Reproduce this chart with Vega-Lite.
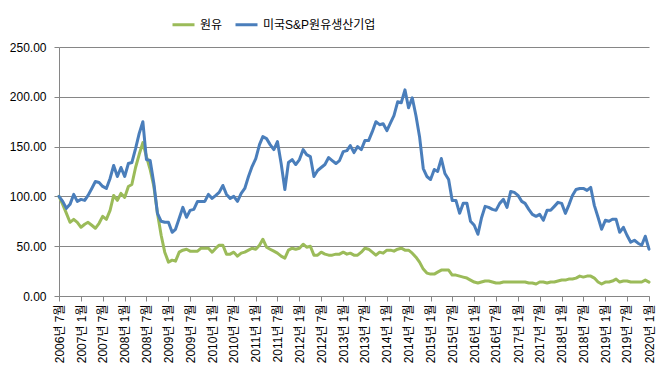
{
  "$schema": "https://vega.github.io/schema/vega-lite/v6.json",
  "width": 590,
  "height": 249,
  "autosize": {"type": "none"},
  "padding": {"left": 59, "top": 47, "right": 16, "bottom": 81},
  "background": "white",
  "config": {
    "font": "Liberation Sans, Noto Sans CJK KR, sans-serif",
    "view": {"stroke": null},
    "axis": {"labelColor": "#000000", "labelFontSize": 12, "domainColor": "#868686", "tickColor": "#868686", "tickSize": 5, "title": null}
  },
  "data": {
    "values": [
      {"d":"2006-07-01","원유":100,"미국S&P원유생산기업":100},
      {"d":"2006-08-01","원유":92,"미국S&P원유생산기업":95},
      {"d":"2006-09-01","원유":83,"미국S&P원유생산기업":88},
      {"d":"2006-10-01","원유":74,"미국S&P원유생산기업":92},
      {"d":"2006-11-01","원유":77,"미국S&P원유생산기업":102},
      {"d":"2006-12-01","원유":74,"미국S&P원유생산기업":95},
      {"d":"2007-01-01","원유":69,"미국S&P원유생산기업":97},
      {"d":"2007-02-01","원유":72,"미국S&P원유생산기업":96},
      {"d":"2007-03-01","원유":74,"미국S&P원유생산기업":101},
      {"d":"2007-04-01","원유":71,"미국S&P원유생산기업":108},
      {"d":"2007-05-01","원유":68,"미국S&P원유생산기업":115},
      {"d":"2007-06-01","원유":73,"미국S&P원유생산기업":114},
      {"d":"2007-07-01","원유":80,"미국S&P원유생산기업":110},
      {"d":"2007-08-01","원유":77,"미국S&P원유생산기업":108},
      {"d":"2007-09-01","원유":86,"미국S&P원유생산기업":118},
      {"d":"2007-10-01","원유":101,"미국S&P원유생산기업":131},
      {"d":"2007-11-01","원유":96,"미국S&P원유생산기업":120},
      {"d":"2007-12-01","원유":103,"미국S&P원유생산기업":129},
      {"d":"2008-01-01","원유":99,"미국S&P원유생산기업":120},
      {"d":"2008-02-01","원유":110,"미국S&P원유생산기업":133},
      {"d":"2008-03-01","원유":112,"미국S&P원유생산기업":134},
      {"d":"2008-04-01","원유":129,"미국S&P원유생산기업":148},
      {"d":"2008-05-01","원유":142,"미국S&P원유생산기업":163},
      {"d":"2008-06-01","원유":154,"미국S&P원유생산기업":175},
      {"d":"2008-07-01","원유":140,"미국S&P원유생산기업":137},
      {"d":"2008-08-01","원유":127,"미국S&P원유생산기업":136},
      {"d":"2008-09-01","원유":110,"미국S&P원유생산기업":113},
      {"d":"2008-10-01","원유":83,"미국S&P원유생산기업":83},
      {"d":"2008-11-01","원유":61,"미국S&P원유생산기업":75},
      {"d":"2008-12-01","원유":44,"미국S&P원유생산기업":74},
      {"d":"2009-01-01","원유":34,"미국S&P원유생산기업":74},
      {"d":"2009-02-01","원유":36,"미국S&P원유생산기업":64},
      {"d":"2009-03-01","원유":35,"미국S&P원유생산기업":67},
      {"d":"2009-04-01","원유":44,"미국S&P원유생산기업":78},
      {"d":"2009-05-01","원유":46,"미국S&P원유생산기업":89},
      {"d":"2009-06-01","원유":47,"미국S&P원유생산기업":79},
      {"d":"2009-07-01","원유":45,"미국S&P원유생산기업":86},
      {"d":"2009-08-01","원유":45,"미국S&P원유생산기업":87},
      {"d":"2009-09-01","원유":45,"미국S&P원유생산기업":95},
      {"d":"2009-10-01","원유":48,"미국S&P원유생산기업":95},
      {"d":"2009-11-01","원유":48,"미국S&P원유생산기업":95},
      {"d":"2009-12-01","원유":48,"미국S&P원유생산기업":102},
      {"d":"2010-01-01","원유":44,"미국S&P원유생산기업":98},
      {"d":"2010-02-01","원유":48,"미국S&P원유생산기업":101},
      {"d":"2010-03-01","원유":51,"미국S&P원유생산기업":104},
      {"d":"2010-04-01","원유":51,"미국S&P원유생산기업":111},
      {"d":"2010-05-01","원유":42,"미국S&P원유생산기업":102},
      {"d":"2010-06-01","원유":42,"미국S&P원유생산기업":98},
      {"d":"2010-07-01","원유":44,"미국S&P원유생산기업":100},
      {"d":"2010-08-01","원유":40,"미국S&P원유생산기업":95},
      {"d":"2010-09-01","원유":43,"미국S&P원유생산기업":103},
      {"d":"2010-10-01","원유":44,"미국S&P원유생산기업":108},
      {"d":"2010-11-01","원유":46,"미국S&P원유생산기업":120},
      {"d":"2010-12-01","원유":48,"미국S&P원유생산기업":130},
      {"d":"2011-01-01","원유":47,"미국S&P원유생산기업":138},
      {"d":"2011-02-01","원유":51,"미국S&P원유생산기업":152},
      {"d":"2011-03-01","원유":57,"미국S&P원유생산기업":160},
      {"d":"2011-04-01","원유":49,"미국S&P원유생산기업":158},
      {"d":"2011-05-01","원유":47,"미국S&P원유생산기업":152},
      {"d":"2011-06-01","원유":45,"미국S&P원유생산기업":147},
      {"d":"2011-07-01","원유":43,"미국S&P원유생산기업":155},
      {"d":"2011-08-01","원유":40,"미국S&P원유생산기업":133},
      {"d":"2011-09-01","원유":38,"미국S&P원유생산기업":107},
      {"d":"2011-10-01","원유":46,"미국S&P원유생산기업":134},
      {"d":"2011-11-01","원유":48,"미국S&P원유생산기업":137},
      {"d":"2011-12-01","원유":47,"미국S&P원유생산기업":132},
      {"d":"2012-01-01","원유":48,"미국S&P원유생산기업":137},
      {"d":"2012-02-01","원유":52,"미국S&P원유생산기업":147},
      {"d":"2012-03-01","원유":49,"미국S&P원유생산기업":142},
      {"d":"2012-04-01","원유":50,"미국S&P원유생산기업":140},
      {"d":"2012-05-01","원유":41,"미국S&P원유생산기업":120},
      {"d":"2012-06-01","원유":41,"미국S&P원유생산기업":126},
      {"d":"2012-07-01","원유":44,"미국S&P원유생산기업":129},
      {"d":"2012-08-01","원유":42,"미국S&P원유생산기업":132},
      {"d":"2012-09-01","원유":41,"미국S&P원유생산기업":139},
      {"d":"2012-10-01","원유":41,"미국S&P원유생산기업":136},
      {"d":"2012-11-01","원유":42,"미국S&P원유생산기업":133},
      {"d":"2012-12-01","원유":42,"미국S&P원유생산기업":136},
      {"d":"2013-01-01","원유":44,"미국S&P원유생산기업":145},
      {"d":"2013-02-01","원유":42,"미국S&P원유생산기업":146},
      {"d":"2013-03-01","원유":43,"미국S&P원유생산기업":151},
      {"d":"2013-04-01","원유":41,"미국S&P원유생산기업":144},
      {"d":"2013-05-01","원유":41,"미국S&P원유생산기업":150},
      {"d":"2013-06-01","원유":44,"미국S&P원유생산기업":147},
      {"d":"2013-07-01","원유":48,"미국S&P원유생산기업":156},
      {"d":"2013-08-01","원유":47,"미국S&P원유생산기업":156},
      {"d":"2013-09-01","원유":44,"미국S&P원유생산기업":165},
      {"d":"2013-10-01","원유":41,"미국S&P원유생산기업":175},
      {"d":"2013-11-01","원유":44,"미국S&P원유생산기업":172},
      {"d":"2013-12-01","원유":43,"미국S&P원유생산기업":173},
      {"d":"2014-01-01","원유":46,"미국S&P원유생산기업":166},
      {"d":"2014-02-01","원유":46,"미국S&P원유생산기업":174},
      {"d":"2014-03-01","원유":45,"미국S&P원유생산기업":181},
      {"d":"2014-04-01","원유":47,"미국S&P원유생산기업":195},
      {"d":"2014-05-01","원유":48,"미국S&P원유생산기업":194},
      {"d":"2014-06-01","원유":46,"미국S&P원유생산기업":207},
      {"d":"2014-07-01","원유":46,"미국S&P원유생산기업":189},
      {"d":"2014-08-01","원유":43,"미국S&P원유생산기업":199},
      {"d":"2014-09-01","원유":39,"미국S&P원유생산기업":181},
      {"d":"2014-10-01","원유":34,"미국S&P원유생산기업":160},
      {"d":"2014-11-01","원유":27,"미국S&P원유생산기업":128},
      {"d":"2014-12-01","원유":23,"미국S&P원유생산기업":120},
      {"d":"2015-01-01","원유":22,"미국S&P원유생산기업":117},
      {"d":"2015-02-01","원유":22,"미국S&P원유생산기업":127},
      {"d":"2015-03-01","원유":24,"미국S&P원유생산기업":125},
      {"d":"2015-04-01","원유":26,"미국S&P원유생산기업":138},
      {"d":"2015-05-01","원유":26,"미국S&P원유생산기업":123},
      {"d":"2015-06-01","원유":26,"미국S&P원유생산기업":117},
      {"d":"2015-07-01","원유":21,"미국S&P원유생산기업":96},
      {"d":"2015-08-01","원유":21,"미국S&P원유생산기업":96},
      {"d":"2015-09-01","원유":20,"미국S&P원유생산기업":83},
      {"d":"2015-10-01","원유":19,"미국S&P원유생산기업":93},
      {"d":"2015-11-01","원유":18,"미국S&P원유생산기업":93},
      {"d":"2015-12-01","원유":16,"미국S&P원유생산기업":75},
      {"d":"2016-01-01","원유":14,"미국S&P원유생산기업":71},
      {"d":"2016-02-01","원유":13,"미국S&P원유생산기업":62},
      {"d":"2016-03-01","원유":14,"미국S&P원유생산기업":78},
      {"d":"2016-04-01","원유":15,"미국S&P원유생산기업":90},
      {"d":"2016-05-01","원유":15,"미국S&P원유생산기업":89},
      {"d":"2016-06-01","원유":14,"미국S&P원유생산기업":87},
      {"d":"2016-07-01","원유":13,"미국S&P원유생산기업":86},
      {"d":"2016-08-01","원유":13,"미국S&P원유생산기업":93},
      {"d":"2016-09-01","원유":14,"미국S&P원유생산기업":97},
      {"d":"2016-10-01","원유":14,"미국S&P원유생산기업":89},
      {"d":"2016-11-01","원유":14,"미국S&P원유생산기업":105},
      {"d":"2016-12-01","원유":14,"미국S&P원유생산기업":104},
      {"d":"2017-01-01","원유":14,"미국S&P원유생산기업":101},
      {"d":"2017-02-01","원유":14,"미국S&P원유생산기업":95},
      {"d":"2017-03-01","원유":14,"미국S&P원유생산기업":93},
      {"d":"2017-04-01","원유":13,"미국S&P원유생산기업":87},
      {"d":"2017-05-01","원유":13,"미국S&P원유생산기업":82},
      {"d":"2017-06-01","원유":12,"미국S&P원유생산기업":80},
      {"d":"2017-07-01","원유":14,"미국S&P원유생산기업":82},
      {"d":"2017-08-01","원유":14,"미국S&P원유생산기업":76},
      {"d":"2017-09-01","원유":13,"미국S&P원유생산기업":86},
      {"d":"2017-10-01","원유":14,"미국S&P원유생산기업":86},
      {"d":"2017-11-01","원유":14,"미국S&P원유생산기업":90},
      {"d":"2017-12-01","원유":15,"미국S&P원유생산기업":94},
      {"d":"2018-01-01","원유":16,"미국S&P원유생산기업":93},
      {"d":"2018-02-01","원유":16,"미국S&P원유생산기업":83},
      {"d":"2018-03-01","원유":17,"미국S&P원유생산기업":91},
      {"d":"2018-04-01","원유":17,"미국S&P원유생산기업":101},
      {"d":"2018-05-01","원유":18,"미국S&P원유생산기업":107},
      {"d":"2018-06-01","원유":20,"미국S&P원유생산기업":108},
      {"d":"2018-07-01","원유":19,"미국S&P원유생산기업":108},
      {"d":"2018-08-01","원유":20,"미국S&P원유생산기업":106},
      {"d":"2018-09-01","원유":20,"미국S&P원유생산기업":109},
      {"d":"2018-10-01","원유":18,"미국S&P원유생산기업":91},
      {"d":"2018-11-01","원유":14,"미국S&P원유생산기업":79},
      {"d":"2018-12-01","원유":12,"미국S&P원유생산기업":67},
      {"d":"2019-01-01","원유":14,"미국S&P원유생산기업":76},
      {"d":"2019-02-01","원유":14,"미국S&P원유생산기업":75},
      {"d":"2019-03-01","원유":15,"미국S&P원유생산기업":77},
      {"d":"2019-04-01","원유":17,"미국S&P원유생산기업":77},
      {"d":"2019-05-01","원유":14,"미국S&P원유생산기업":64},
      {"d":"2019-06-01","원유":15,"미국S&P원유생산기업":69},
      {"d":"2019-07-01","원유":15,"미국S&P원유생산기업":61},
      {"d":"2019-08-01","원유":14,"미국S&P원유생산기업":54},
      {"d":"2019-09-01","원유":14,"미국S&P원유생산기업":56},
      {"d":"2019-10-01","원유":14,"미국S&P원유생산기업":53},
      {"d":"2019-11-01","원유":14,"미국S&P원유생산기업":51},
      {"d":"2019-12-01","원유":16,"미국S&P원유생산기업":60},
      {"d":"2020-01-01","원유":14,"미국S&P원유생산기업":47}
    ]
  },
  "transform": [
    {"fold": ["원유", "미국S&P원유생산기업"], "as": ["series", "value"]}
  ],
  "encoding": {
    "x": {
      "field": "d",
      "type": "temporal",
      "scale": {"type": "utc", "nice": false},
      "axis": {
        "tickCount": {"interval": "month", "step": 6},
        "labelExpr": "utcFormat(datum.value, '%Y년 %-m월')",
        "labelAngle": 270,
        "labelPadding": 3,
        "labelOverlap": false,
        "labelFlush": false,
        "labelBound": false,
        "grid": false
      }
    },
    "y": {
      "field": "value",
      "type": "quantitative",
      "scale": {"domain": [0, 250], "nice": false},
      "axis": {
        "values": [0, 50, 100, 150, 200, 250],
        "format": ".2f",
        "labelPadding": 8,
        "grid": true,
        "gridColor": "#868686",
        "gridWidth": 1
      }
    },
    "color": {
      "field": "series",
      "type": "nominal",
      "scale": {"domain": ["원유", "미국S&P원유생산기업"], "range": ["#9BBB59", "#4A7EBB"]},
      "legend": {
        "title": null,
        "orient": "none",
        "direction": "horizontal",
        "legendX": 112,
        "legendY": -35,
        "symbolType": "stroke",
        "symbolStrokeWidth": 3,
        "symbolSize": 484,
        "labelFontSize": 12,
        "labelColor": "#000000",
        "labelOffset": 4,
        "columnPadding": 6
      }
    }
  },
  "layer": [
    {"transform": [{"filter": "datum.series === '원유'"}], "mark": {"type": "line", "strokeWidth": 3, "strokeJoin": "round", "strokeCap": "round"}},
    {"transform": [{"filter": "datum.series !== '원유'"}], "mark": {"type": "line", "strokeWidth": 3, "strokeJoin": "round", "strokeCap": "round"}}
  ]
}
